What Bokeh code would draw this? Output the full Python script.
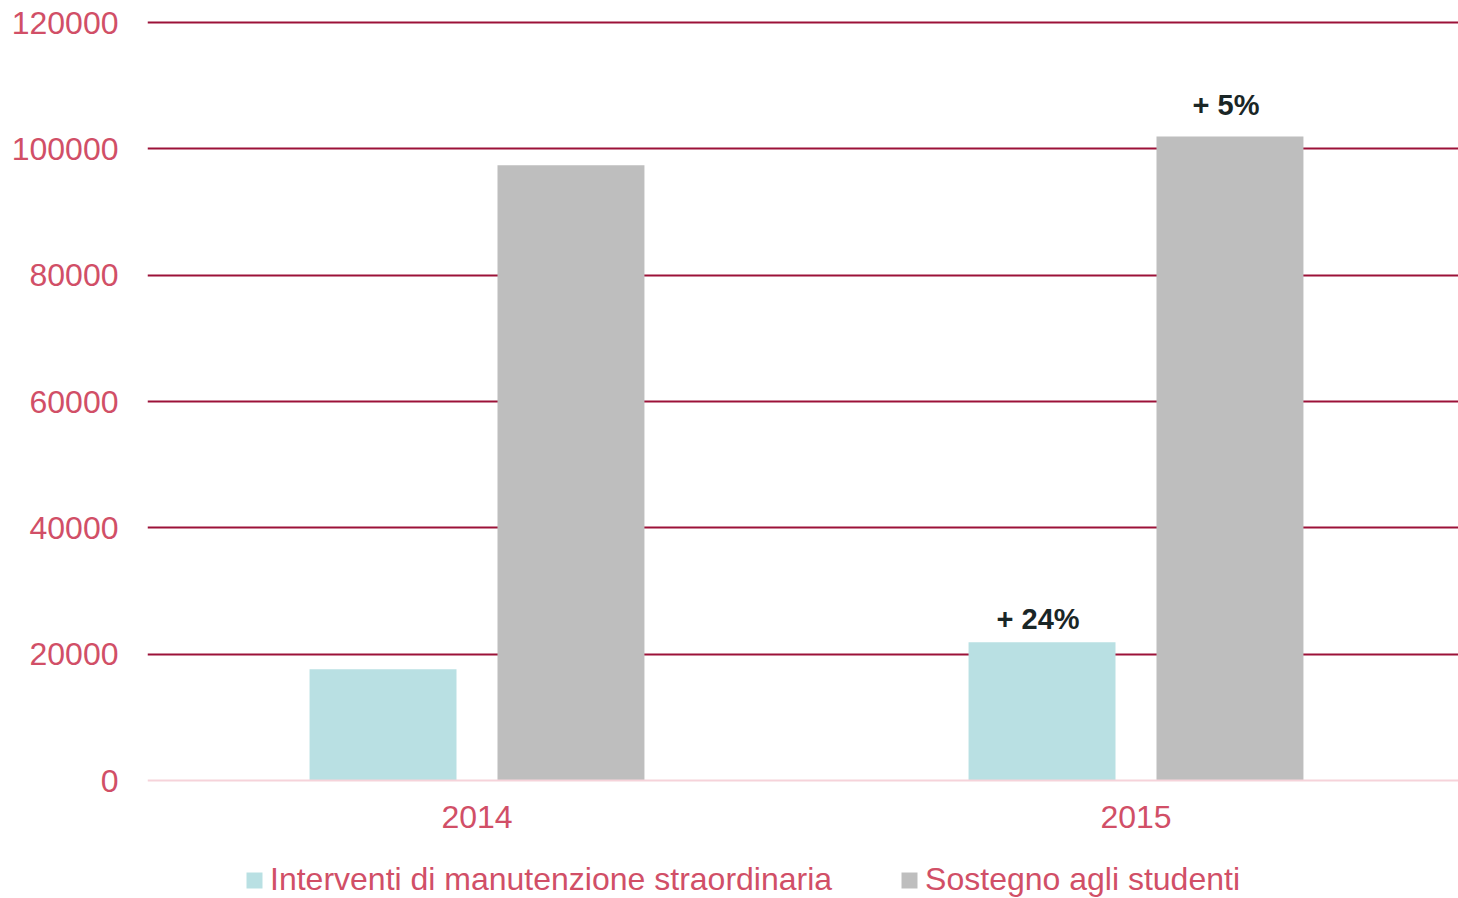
from bokeh.plotting import figure
from bokeh.models import ColumnDataSource, Range1d, FixedTicker, Legend, LegendItem
from bokeh.core.properties import value
from bokeh.embed import file_html
from bokeh.resources import INLINE

years = ["2014", "2015"]
series_names = ["Interventi di manutenzione straordinaria", "Sostegno agli studenti"]
manutenzione = [17600, 21900]
sostegno = [97400, 101950]
labels_manut = ["", "+ 24%"]
labels_sost = ["", "+ 5%"]
y_ticks = [0, 20000, 40000, 60000, 80000, 100000, 120000]

FONT = "Liberation Sans"
PINK = "#D14F67"
GRID = "#9C1238"

# layout: frame spans page y 20..898, value 0 sits at y=780, 120000 at y=22
UNITS_PER_PX = 120000 / 758
y_end = 120000 + 2 * UNITS_PER_PX
y_start = -(898 - 780) * UNITS_PER_PX

p = figure(width=1458, height=898, output_backend="svg", toolbar_location=None,
           x_range=Range1d(0, 1311 / 659), y_range=Range1d(y_start, y_end),
           min_border_left=147, min_border_right=0, min_border_top=20, min_border_bottom=0)
p.outline_line_color = None
p.background_fill_color = None
p.border_fill_color = "white"

xc = [i + 0.5 for i in range(len(years))]
src1 = ColumnDataSource(dict(x=[v - 0.1426 for v in xc], top=manutenzione, lab=labels_manut))
src2 = ColumnDataSource(dict(x=[v + 0.1426 for v in xc], top=sostegno, lab=labels_sost))

r1 = p.vbar(x="x", top="top", bottom=0, width=0.223, source=src1, fill_color="#B9E0E3", line_color=None)
r2 = p.vbar(x="x", top="top", bottom=0, width=0.223, source=src2, fill_color="#BEBEBE", line_color=None)

p.text(x="x", y="top", text="lab", source=src1, text_align="center", text_baseline="alphabetic",
       x_offset=-4, y_offset=-23, text_font=value(FONT), text_font_style="bold",
       text_font_size="29px", text_color="#1A2626")
p.text(x="x", y="top", text="lab", source=src2, text_align="center", text_baseline="alphabetic",
       x_offset=-4, y_offset=-32, text_font=value(FONT), text_font_style="bold",
       text_font_size="29px", text_color="#1A2626")

# grids
p.xgrid.grid_line_color = None
p.ygrid.ticker = FixedTicker(ticks=y_ticks[1:])
p.ygrid.grid_line_color = GRID
p.ygrid.grid_line_width = 1.8

# y axis
p.yaxis.ticker = FixedTicker(ticks=y_ticks)
p.yaxis.major_label_overrides = {t: str(t) for t in y_ticks}
p.yaxis.axis_line_color = None
p.yaxis.major_tick_line_color = None
p.yaxis.minor_tick_line_color = None
p.yaxis.major_tick_out = 0
p.yaxis.major_label_standoff = 29
p.yaxis.major_label_text_font = FONT
p.yaxis.major_label_text_font_size = "32px"
p.yaxis.major_label_text_color = PINK

# x axis, pinned at value 0
p.xaxis.fixed_location = 0
p.xaxis.ticker = FixedTicker(ticks=xc)
p.xaxis.major_label_overrides = {xc[i]: years[i] for i in range(len(years))}
p.xaxis.axis_line_color = "#F6D3DA"
p.xaxis.axis_line_width = 2
p.xaxis.major_tick_line_color = None
p.xaxis.minor_tick_line_color = None
p.xaxis.major_tick_out = 0
p.xaxis.major_tick_in = 0
p.xaxis.major_label_standoff = 25
p.xaxis.major_label_text_font = FONT
p.xaxis.major_label_text_font_size = "32px"
p.xaxis.major_label_text_color = PINK

legend = Legend(items=[LegendItem(label=series_names[0], renderers=[r1]),
                       LegendItem(label=series_names[1], renderers=[r2])],
                orientation="horizontal", location=(97, 0))
legend.glyph_width = 20
legend.glyph_height = 20
legend.label_standoff = 6
legend.spacing = 67
legend.padding = 0
legend.margin = 0
legend.border_line_color = None
legend.background_fill_alpha = 0
legend.label_text_font = FONT
legend.label_text_font_size = "32px"
legend.label_text_color = PINK
p.add_layout(legend, "center")

open("out.html", "w").write(file_html(p, INLINE))
